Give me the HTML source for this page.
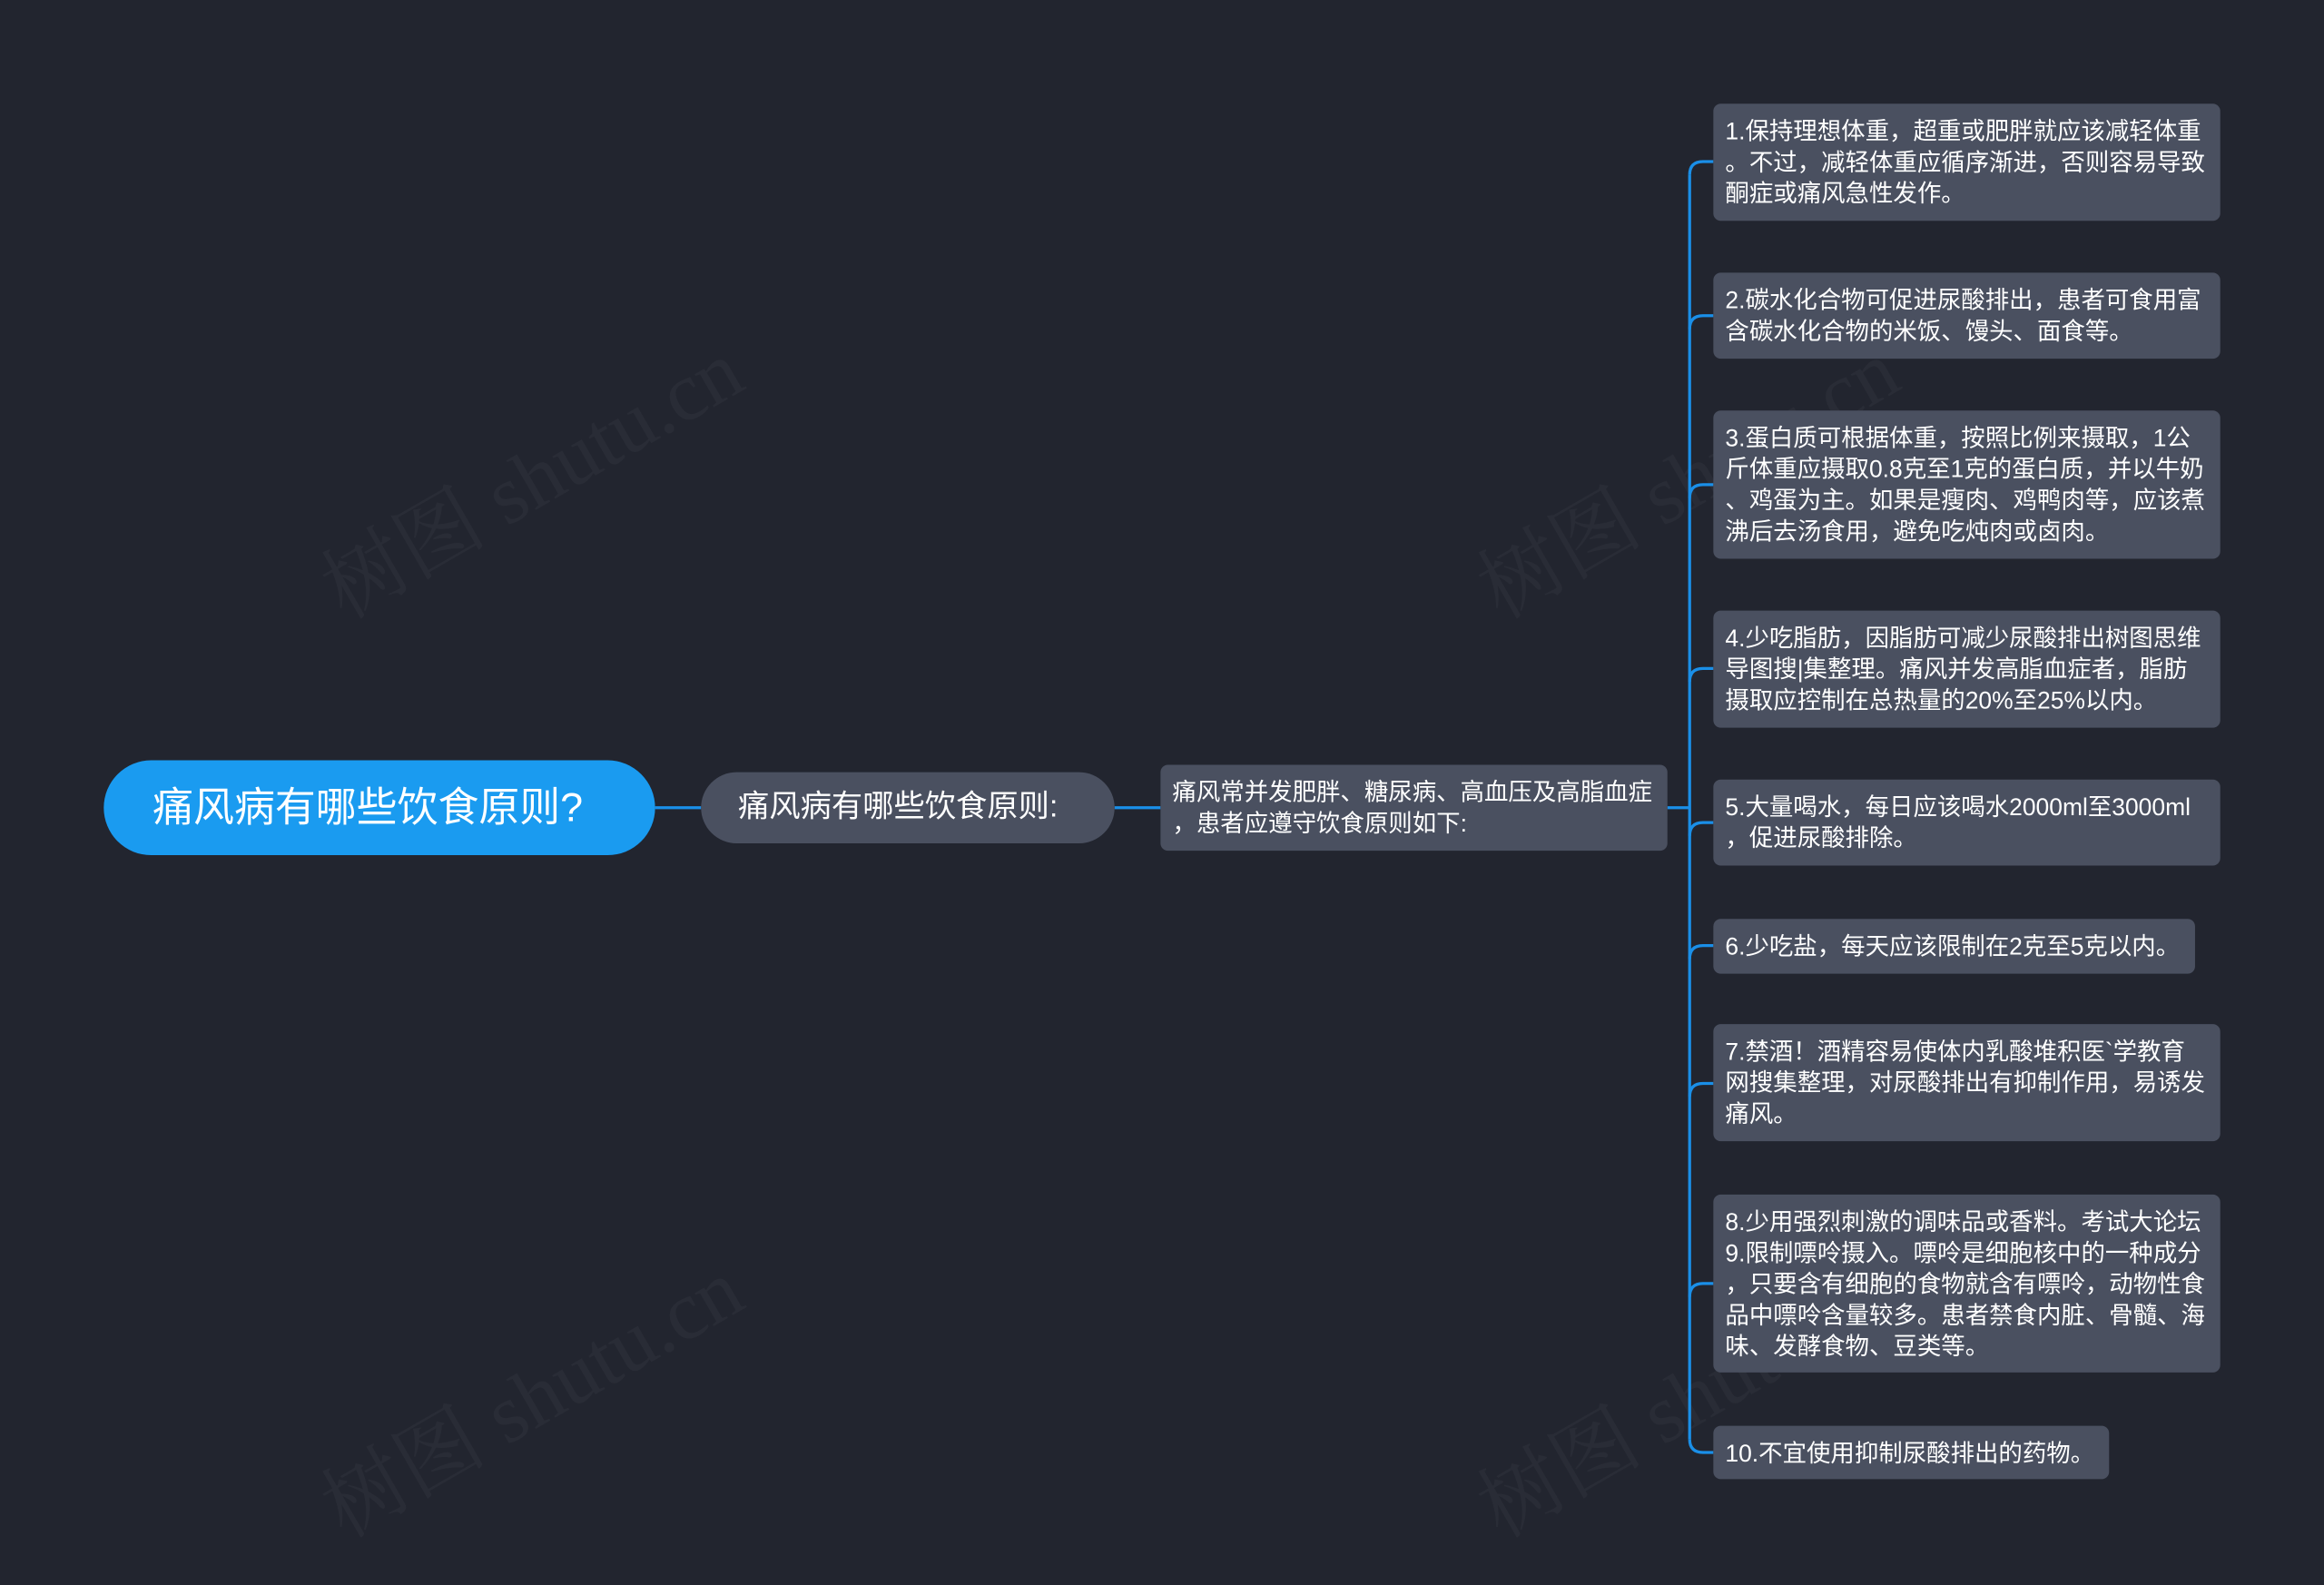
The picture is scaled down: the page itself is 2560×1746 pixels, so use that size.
<!DOCTYPE html>
<html><head><meta charset="utf-8">
<style>
html,body{margin:0;padding:0;background:#22252f;}
body{width:2560px;height:1746px;overflow:hidden;position:relative;}
#c{position:absolute;left:0;top:0;width:1568px;height:1069px;transform:scale(1.632653);transform-origin:0 0;font-family:"Liberation Sans","Noto Sans CJK SC",sans-serif;color:#fff;}
.n{position:absolute;box-sizing:border-box;background:#4a5060;}
.leaf{left:1156px;width:342px;border-radius:5px;padding:9px 8px 0 8px;font-size:16.2px;line-height:21px;white-space:nowrap;}
.wm{position:absolute;color:rgba(255,255,255,0.035);font-size:56px;transform:rotate(-30deg);white-space:nowrap;font-family:"Liberation Serif","Noto Serif CJK SC",serif;}
svg{position:absolute;left:0;top:0;}
</style></head><body><div id="c">
<div class="wm" style="left:200px;top:280px;">树图 shutu.cn</div>
<div class="wm" style="left:980px;top:280px;">树图 shutu.cn</div>
<div class="wm" style="left:200px;top:900px;">树图 shutu.cn</div>
<div class="wm" style="left:980px;top:900px;">树图 shutu.cn</div>
<svg width="1568" height="1069" fill="none" stroke="#1a8fe8" stroke-width="2">
<line x1="442" y1="545" x2="473" y2="545"/>
<line x1="752" y1="545" x2="783" y2="545"/>
<line x1="1125" y1="545" x2="1140" y2="545"/>
<path d="M1140 118 Q1140 109 1149 109 L1156 109"/>
<line x1="1140" y1="118" x2="1140" y2="971"/>
<path d="M1140 971 Q1140 980 1149 980 L1156 980"/>
<path d="M1140 222 Q1140 213 1149 213 L1156 213"/>
<path d="M1140 336 Q1140 327 1149 327 L1156 327"/>
<path d="M1140 460 Q1140 451 1149 451 L1156 451"/>
<path d="M1140 564 Q1140 555 1149 555 L1156 555"/>
<path d="M1140 647 Q1140 638 1149 638 L1156 638"/>
<path d="M1140 740 Q1140 731 1149 731 L1156 731"/>
<path d="M1140 875 Q1140 866 1149 866 L1156 866"/>
</svg>
<div class="n" style="left:70px;top:513px;width:372px;height:64px;border-radius:32px;background:#1a9bf0;font-size:27.5px;line-height:64px;padding-left:33px;white-space:nowrap;">痛风病有哪些饮食原则?</div>
<div class="n" style="left:473px;top:521px;width:279px;height:48px;border-radius:24px;font-size:21px;line-height:48px;padding-left:25px;white-space:nowrap;">痛风病有哪些饮食原则:</div>
<div class="n" style="left:783px;top:516px;width:342px;height:58px;border-radius:5px;font-size:16.2px;line-height:21px;padding:9px 0 0 8px;white-space:nowrap;">痛风常并发肥胖、糖尿病、高血压及高脂血症<br>，患者应遵守饮食原则如下:</div>
<div class="n leaf" style="top:70px;height:79px;">1.保持理想体重，超重或肥胖就应该减轻体重<br>。不过，减轻体重应循序渐进，否则容易导致<br>酮症或痛风急性发作。</div>
<div class="n leaf" style="top:184px;height:58px;">2.碳水化合物可促进尿酸排出，患者可食用富<br>含碳水化合物的米饭、馒头、面食等。</div>
<div class="n leaf" style="top:277px;height:100px;">3.蛋白质可根据体重，按照比例来摄取，1公<br>斤体重应摄取0.8克至1克的蛋白质，并以牛奶<br>、鸡蛋为主。如果是瘦肉、鸡鸭肉等，应该煮<br>沸后去汤食用，避免吃炖肉或卤肉。</div>
<div class="n leaf" style="top:412px;height:79px;">4.少吃脂肪，因脂肪可减少尿酸排出树图思维<br>导图搜|集整理。痛风并发高脂血症者，脂肪<br>摄取应控制在总热量的20%至25%以内。</div>
<div class="n leaf" style="top:526px;height:58px;">5.大量喝水，每日应该喝水2000ml至3000ml<br>，促进尿酸排除。</div>
<div class="n leaf" style="top:620px;height:37px;width:325px;">6.少吃盐，每天应该限制在2克至5克以内。</div>
<div class="n leaf" style="top:691px;height:79px;">7.禁酒！酒精容易使体内乳酸堆积医`学教育<br>网搜集整理，对尿酸排出有抑制作用，易诱发<br>痛风。</div>
<div class="n leaf" style="top:806px;height:120px;">8.少用强烈刺激的调味品或香料。考试大论坛<br>9.限制嘌呤摄入。嘌呤是细胞核中的一种成分<br>，只要含有细胞的食物就含有嘌呤，动物性食<br>品中嘌呤含量较多。患者禁食内脏、骨髓、海<br>味、发酵食物、豆类等。</div>
<div class="n leaf" style="top:962px;height:36px;width:267px;">10.不宜使用抑制尿酸排出的药物。</div>
</div></body></html>
